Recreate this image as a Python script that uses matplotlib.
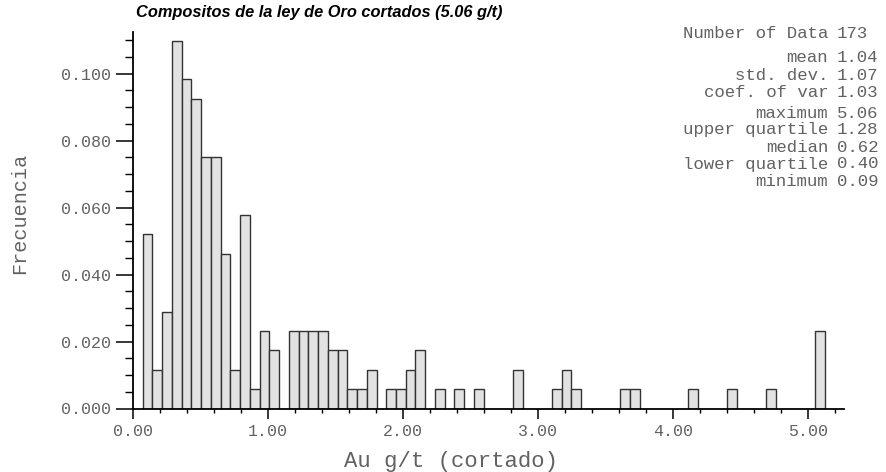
import matplotlib
matplotlib.use("Agg")
import matplotlib.pyplot as plt
import numpy as np
from matplotlib.ticker import MultipleLocator, FormatStrFormatter

# histogram classes (class k covers k*w .. (k+1)*w)
bin_width = 0.0722
class_counts = [0, 9, 2, 5, 19, 17, 16, 13, 13, 8,
                2, 10, 1, 4, 3, 0, 4, 4, 4, 4,
                3, 3, 1, 1, 2, 0, 1, 1, 2, 3,
                0, 1, 0, 1, 0, 1, 0, 0, 0, 2,
                0, 0, 0, 1, 2, 1, 0, 0, 0, 0,
                1, 1, 0, 0, 0, 0, 0, 1, 0, 0,
                0, 1, 0, 0, 0, 1, 0, 0, 0, 0,
                4]
n_data = 173

stat_labels = ["Number of Data", "mean", "std. dev.", "coef. of var",
               "maximum", "upper quartile", "median", "lower quartile", "minimum"]
stat_values = ["173", "1.04", "1.07", "1.03", "5.06", "1.28", "0.62", "0.40", "0.09"]
stat_rows_px = [34, 57, 75, 92.5, 113, 130, 147, 164, 181]   # y of each line in pixels

title = "Compositos de la ley de Oro cortados (5.06 g/t)"
xlabel = "Au g/t (cortado)"
ylabel = "Frecuencia"

W, H = 886, 472
mono = "Liberation Mono"
grey = "#626262"

fig = plt.figure(figsize=(W / 100, H / 100), dpi=100)
ax = fig.add_axes([133 / W, 1 - 408.5 / H, 711 / W, 376.5 / H])

counts = np.array(class_counts, dtype=float)
freq = counts / n_data
lefts = np.arange(len(counts)) * bin_width
keep = counts > 0
ax.bar(lefts[keep], freq[keep], width=bin_width, align="edge",
       facecolor="#e2e2e2", edgecolor="#333333", linewidth=1.0, zorder=2)

ax.set_xlim(0, 5.27)
ax.set_ylim(0, 0.1124)

for side in ("top", "right"):
    ax.spines[side].set_visible(False)
for side in ("left", "bottom"):
    ax.spines[side].set_linewidth(1.3)
    ax.spines[side].set_zorder(3)

ax.xaxis.set_major_locator(MultipleLocator(1.0))
ax.xaxis.set_minor_locator(MultipleLocator(0.2))
ax.xaxis.set_major_formatter(FormatStrFormatter("%.2f"))
ax.yaxis.set_major_locator(MultipleLocator(0.02))
ax.yaxis.set_minor_locator(MultipleLocator(0.005))
ax.yaxis.set_major_formatter(FormatStrFormatter("%.3f"))

ax.tick_params(axis="x", which="major", direction="out", length=7, width=1.1, pad=4,
               labelsize=12, labelcolor=grey)
ax.tick_params(axis="x", which="minor", direction="out", length=3, width=1.0)
ax.tick_params(axis="y", which="major", direction="out", length=12.5, width=1.1, pad=3,
               labelsize=12, labelcolor=grey)
ax.tick_params(axis="y", which="minor", direction="out", length=5.5, width=1.0)
for lab in ax.get_xticklabels() + ax.get_yticklabels():
    lab.set_family(mono)

ax.set_xlabel(xlabel, family=mono, fontsize=16, color=grey)
ax.xaxis.set_label_coords((451 - 133) / 711, (408.5 - 462) / 376.5)
ax.xaxis.label.set_verticalalignment("center")
ax.set_ylabel(ylabel, family=mono, fontsize=14.5, color=grey)
ax.yaxis.set_label_coords((20 - 133) / 711, (408.5 - 213) / 376.5)
ax.yaxis.label.set_verticalalignment("center")

fig.text(136 / W, 1 - 13 / H, title, family="Liberation Sans", fontweight="bold",
         fontstyle="italic", fontsize=11.8, ha="left", va="center", color="black")

for lab, val, ypx in zip(stat_labels, stat_values, stat_rows_px):
    fig.text(828 / W, 1 - ypx / H, lab, family=mono, fontsize=12.5, color=grey,
             ha="right", va="center")
    fig.text(837 / W, 1 - ypx / H, val, family=mono, fontsize=12.5, color=grey,
             ha="left", va="center")

fig.savefig("out.png", dpi=100)
